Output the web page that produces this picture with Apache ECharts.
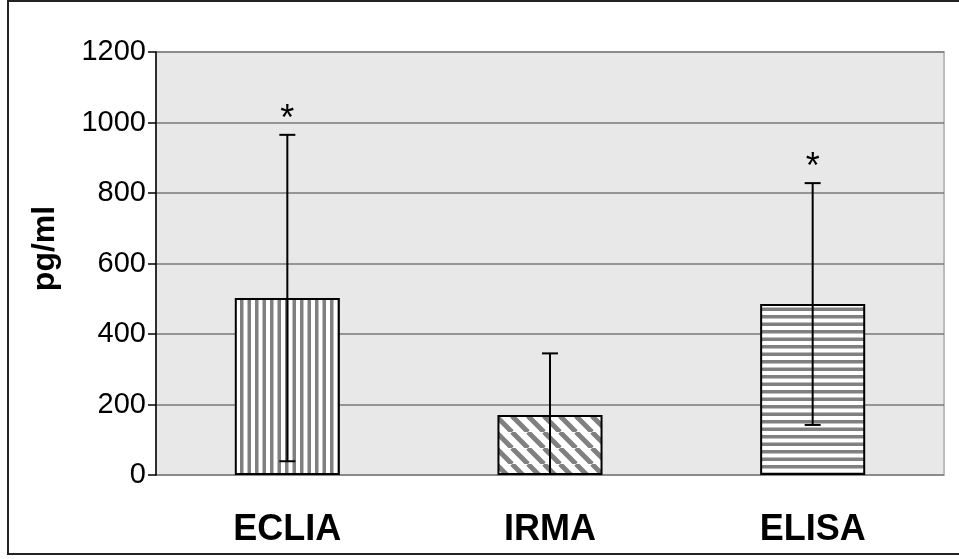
<!DOCTYPE html>
<html>
<head>
<meta charset="utf-8">
<script src="https://cdn.jsdelivr.net/npm/echarts@6/dist/echarts.min.js"></script>
<style>
  html, body { margin: 0; padding: 0; background: #fff; }
  #chart { width: 959px; height: 559px; }
</style>
</head>
<body>
<div id="chart"></div>
<script>
// Assay categories and their mean concentration with standard deviation (pg/ml)
const categories = ['ECLIA', 'IRMA', 'ELISA'];
const means = [502, 170, 485];
const deviations = [463, 175, 343];
const significance = ['*', '', '*'];
const yTickValues = [0, 200, 400, 600, 800, 1000, 1200];

// Striped fill tiles for each bar
function makeTile(kind) {
  const c = document.createElement('canvas');
  const ctx = c.getContext('2d');
  if (kind === 'vertical') {
    c.width = 15; c.height = 4;
    ctx.fillStyle = '#ffffff'; ctx.fillRect(0, 0, 15, 4);
    ctx.fillStyle = '#808080';
    ctx.fillRect(0, 0, 3.5, 4);
    ctx.fillRect(7.5, 0, 3.5, 4);
  } else if (kind === 'horizontal') {
    c.width = 4; c.height = 15;
    ctx.fillStyle = '#ffffff'; ctx.fillRect(0, 0, 4, 15);
    ctx.fillStyle = '#808080';
    ctx.fillRect(0, 0, 4, 3.5);
    ctx.fillRect(0, 7.5, 4, 3.5);
  } else {
    const s = 16;
    c.width = s; c.height = s;
    ctx.fillStyle = '#ffffff'; ctx.fillRect(0, 0, s, s);
    ctx.strokeStyle = '#808080';
    ctx.lineWidth = 5;
    for (const x0 of [-s, 0, s]) {
      ctx.beginPath();
      ctx.moveTo(x0, 0);
      ctx.lineTo(x0 + s, s);
      ctx.stroke();
    }
  }
  return c;
}
const tiles = [makeTile('vertical'), makeTile('diagonal'), makeTile('horizontal')];

const chart = echarts.init(document.getElementById('chart'), null, { renderer: 'canvas' });

const barData = means.map((v, i) => ({
  value: v,
  itemStyle: {
    color: { image: tiles[i], repeat: 'repeat' },
    borderColor: '#000',
    borderWidth: 2
  }
}));

const errData = means.map((v, i) => [i, v, deviations[i]]);

chart.setOption({
  animation: false,
  textStyle: { fontFamily: 'Liberation Sans, Arial, sans-serif' },
  graphic: [{
    type: 'rect',
    shape: { x: 8, y: 1, width: 960, height: 553 },
    style: { fill: 'none', stroke: '#222', lineWidth: 2 },
    z: 100
  }],
  grid: {
    left: 156, right: 15, top: 52, bottom: 84,
    show: true,
    backgroundColor: '#e8e8e8',
    borderColor: '#bcbcbc',
    borderWidth: 2
  },
  xAxis: {
    type: 'category',
    data: categories,
    axisLine: { show: false },
    axisTick: { show: false },
    axisLabel: {
      margin: 37,
      fontSize: 36,
      fontWeight: 'bold',
      color: '#000'
    }
  },
  yAxis: {
    type: 'value',
    min: yTickValues[0],
    max: yTickValues[yTickValues.length - 1],
    interval: yTickValues[1] - yTickValues[0],
    name: 'pg/ml',
    nameLocation: 'middle',
    nameGap: 95,
    nameTextStyle: { fontSize: 32, fontWeight: 'bold', color: '#000', padding: [0, 0, 0, 30] },
    axisLine: { show: true, lineStyle: { color: '#000', width: 1.5 } },
    axisTick: { show: true, length: 8, lineStyle: { color: '#000', width: 1.5 } },
    axisLabel: {
      fontSize: 29, color: '#000', margin: 10,
      formatter: function (v) { return String(v); }
    },
    splitLine: { lineStyle: { color: '#7a7a7a', width: 1.5 } }
  },
  series: [{
    type: 'bar',
    data: barData,
    barWidth: '40%',
    z: 2
  }, {
    type: 'custom',
    data: errData,
    z: 5,
    renderItem: function (params, api) {
      const x = api.value(0);
      const mean = api.value(1);
      const sd = api.value(2);
      const mark = significance[params.dataIndex];
      const low = mean - sd;
      const hi = api.coord([x, mean + sd]);
      const lo = api.coord([x, Math.max(0, low)]);
      const cap = 8;
      const lineStyle = { stroke: '#000', lineWidth: 2 };
      const children = [
        { type: 'line', shape: { x1: hi[0], y1: hi[1], x2: lo[0], y2: lo[1] }, style: lineStyle },
        { type: 'line', shape: { x1: hi[0] - cap, y1: hi[1], x2: hi[0] + cap, y2: hi[1] }, style: lineStyle }
      ];
      if (low > 0) {
        children.push({ type: 'line', shape: { x1: lo[0] - cap, y1: lo[1], x2: lo[0] + cap, y2: lo[1] }, style: lineStyle });
      }
      if (mark) {
        children.push({
          type: 'text',
          style: {
            text: mark, x: hi[0], y: hi[1] - 15,
            align: 'center', verticalAlign: 'middle',
            fontSize: 36, fill: '#000',
            fontFamily: 'Liberation Sans, Arial, sans-serif'
          }
        });
      }
      return { type: 'group', children: children };
    }
  }]
});
</script>
</body>
</html>
